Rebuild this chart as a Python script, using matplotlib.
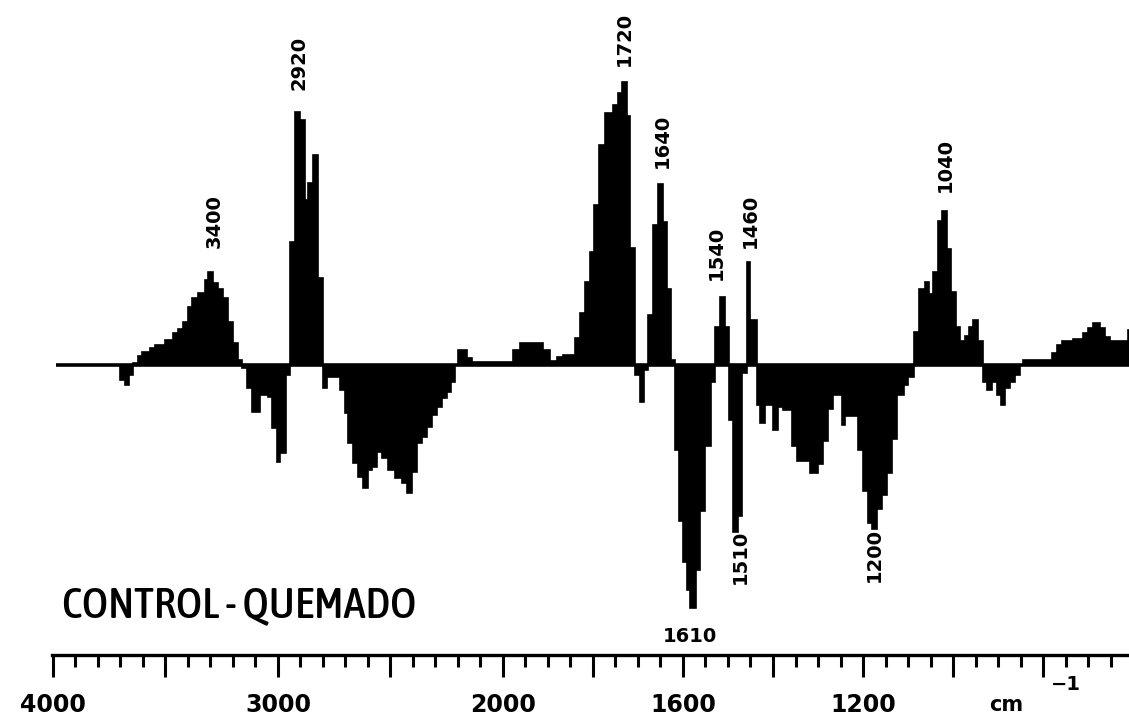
import numpy as np
import matplotlib
matplotlib.use('Agg')
import matplotlib.pyplot as plt
from matplotlib import font_manager
from matplotlib.font_manager import FontProperties
from matplotlib.ticker import FixedLocator, FixedFormatter

# difference spectrum, control minus burnt sample
# bin edges in cm-1 (high -> low) and step heights in arbitrary units
edges = [3985, 3700, 3680, 3662, 3644, 3622, 3604, 3569, 3547, 3502,
         3467, 3444, 3422, 3400, 3382, 3356, 3324, 3311, 3289, 3267,
         3244, 3222, 3200, 3178, 3160, 3138, 3116, 3080, 3044, 3027,
         3004, 2991, 2964, 2947, 2924, 2902, 2880, 2867, 2844, 2822,
         2800, 2782, 2724, 2702, 2689, 2667, 2644, 2622, 2600, 2582,
         2560, 2538, 2511, 2480, 2449, 2427, 2404, 2382, 2360, 2338,
         2316, 2293, 2271, 2249, 2231, 2213, 2200, 2160, 2138, 1978,
         1962, 1911, 1896, 1880, 1867, 1840, 1829, 1818, 1807, 1798,
         1787, 1773, 1756, 1744, 1736, 1724, 1718, 1707, 1696, 1687,
         1678, 1667, 1656, 1644, 1636, 1627, 1618, 1609, 1600, 1591,
         1584, 1571, 1562, 1551, 1538, 1529, 1518, 1507, 1498, 1489,
         1478, 1469, 1458, 1451, 1436, 1429, 1418, 1400, 1389, 1378,
         1358, 1347, 1318, 1300, 1289, 1278, 1267, 1247, 1240, 1211,
         1200, 1189, 1180, 1169, 1158, 1147, 1136, 1124, 1110, 1100,
         1087, 1076, 1062, 1053, 1044, 1033, 1024, 1013, 1004, 993,
         984, 973, 964, 956, 944, 933, 924, 913, 902, 893,
         884, 873, 862, 851, 844, 780, 769, 758, 733, 711,
         700, 689, 673, 662, 651, 611, 604]
diff = [0, -15, -20, -10, 2, 9, 13, 17, 20, 25,
        32, 36, 43, 58, 67, 72, 85, 93, 82, 76,
        67, 43, 22, 5, -3, -23, -47, -30, -32, -63,
        -97, -88, -10, 123, 253, 245, 165, 182, 210, 87,
        -23, -12, -25, -48, -78, -98, -112, -123, -105, -102,
        -87, -93, -105, -113, -118, -128, -107, -78, -72, -62,
        -50, -42, -33, -27, -17, 0, 15, 7, 3, 15,
        22, 15, 4, 8, 10, 27, 52, 83, 113, 160,
        220, 252, 260, 272, 283, 249, 117, -10, -37, -5,
        50, 140, 181, 143, 76, 5, -85, -156, -197, -225,
        -243, -205, -146, -81, -17, 38, 68, 38, -55, -167,
        -151, -8, 103, 45, -40, -58, -40, -65, -42, -45,
        -81, -96, -108, -99, -76, -44, -30, -60, -51, -85,
        -126, -158, -164, -144, -130, -108, -74, -30, -20, -12,
        33, 76, 83, 71, 93, 144, 154, 116, 73, 38,
        24, 29, 38, 45, 24, -17, -25, -17, -30, -40,
        -23, -17, -10, 0, 5, 12, 20, 24, 26, 32,
        37, 42, 37, 28, 24, 35]

peak_labels = ['3400', '2920', '1720', '1640', '1540', '1460', '1040', '1510', '1200', '1610']

tick_labels = {4000: '4000', 3000: '3000', 2000: '2000', 1600: '1600', 1200: '1200'}


def to_pos(w):
    # chart paper: 4000-2000 at half the scale of 2000-600
    w = np.asarray(w, dtype=float)
    return -np.where(w >= 2000, (4000 - w) / 2, 3000 - w)


def from_pos(p):
    p = -np.asarray(p, dtype=float)
    return np.where(p <= 1000, 4000 - 2 * p, 3000 - p)


def narrow_font():
    # look for an upright condensed / narrow face that is installed
    fonts = [f for f in font_manager.fontManager.ttflist if f.style == 'normal']
    best = None
    for f in fonts:
        narrow = ('Narrow' in f.name or 'Condensed' in f.name
                  or f.stretch in ('condensed', 'semi-condensed', 'extra-condensed'))
        if not narrow:
            continue
        w = f.weight if isinstance(f.weight, int) else 400
        score = abs(w - 500)
        if best is None or score < best[0]:
            best = (score, f)
    return FontProperties(fname=best[1].fname) if best else None


W, H = 1129, 715
fig = plt.figure(figsize=(W / 100, H / 100), dpi=100)
ax = fig.add_axes([52 / W, (H - 655) / H, (W - 52) / W, 655 / H])
ax.set_xscale('function', functions=(to_pos, from_pos))

e = np.array(edges[::-1], dtype=float)
v = np.array(diff[::-1], dtype=float)
ax.stairs(v, e, baseline=0, fill=True, color='black')
ax.stairs(v, e, baseline=0, fill=False, color='black', linewidth=1.2)
ax.hlines(0, edges[-1], edges[0], color='black', linewidth=2.6)

ax.set_xlim(4004, 609)
ax.set_ylim(-290, 365)

for s in ['top', 'left', 'right']:
    ax.spines[s].set_visible(False)
ax.spines['bottom'].set_linewidth(2.4)
ax.set_yticks([])

majors = [4000, 3500, 3000, 2500, 2000, 1800, 1600, 1400, 1200, 1000, 800]
minors = [t for t in list(range(3900, 2000, -100)) + list(range(1950, 620, -50)) if t not in majors]
ax.xaxis.set_major_locator(FixedLocator(majors))
ax.xaxis.set_major_formatter(FixedFormatter([tick_labels.get(t, '') for t in majors]))
ax.xaxis.set_minor_locator(FixedLocator(minors))
ax.tick_params(axis='x', which='major', direction='out', length=16, width=2.2, pad=11,
               labelsize=17)
ax.tick_params(axis='x', which='minor', direction='out', length=8.5, width=2.2)
for lab in ax.get_xticklabels():
    lab.set_fontweight('bold')

# peak annotations, placed where they sit on the original
label_pos = [(3284, 144), (2907, 302), (1731, 326), (1647, 224), (1527, 112),
             (1451, 144), (1018, 200), (1473, -192), (1176, -190)]
for txt, (x, y) in zip(peak_labels, label_pos):
    ax.text(x, y, txt, rotation=90, ha='center', va='center', fontsize=14, fontweight='bold')
ax.text(1584, -271, peak_labels[-1], ha='center', va='center', fontsize=14, fontweight='bold')

fp = narrow_font()
if fp is not None:
    fp.set_size(32)
    fig.text(62 / W, (H - 617) / H, 'CONTROL - QUEMADO', fontproperties=fp,
             ha='left', va='baseline')
else:
    fig.text(62 / W, (H - 617) / H, 'CONTROL - QUEMADO', fontsize=23,
             ha='left', va='baseline')
fig.text(1006 / W, 1 - 705 / H, 'cm', fontsize=15, fontweight='bold', ha='center', va='center')
fig.text(1066 / W, 1 - 684 / H, '\u22121', fontsize=14, fontweight='bold', ha='center', va='center')

fig.savefig('out.png', dpi=100, facecolor='white')
